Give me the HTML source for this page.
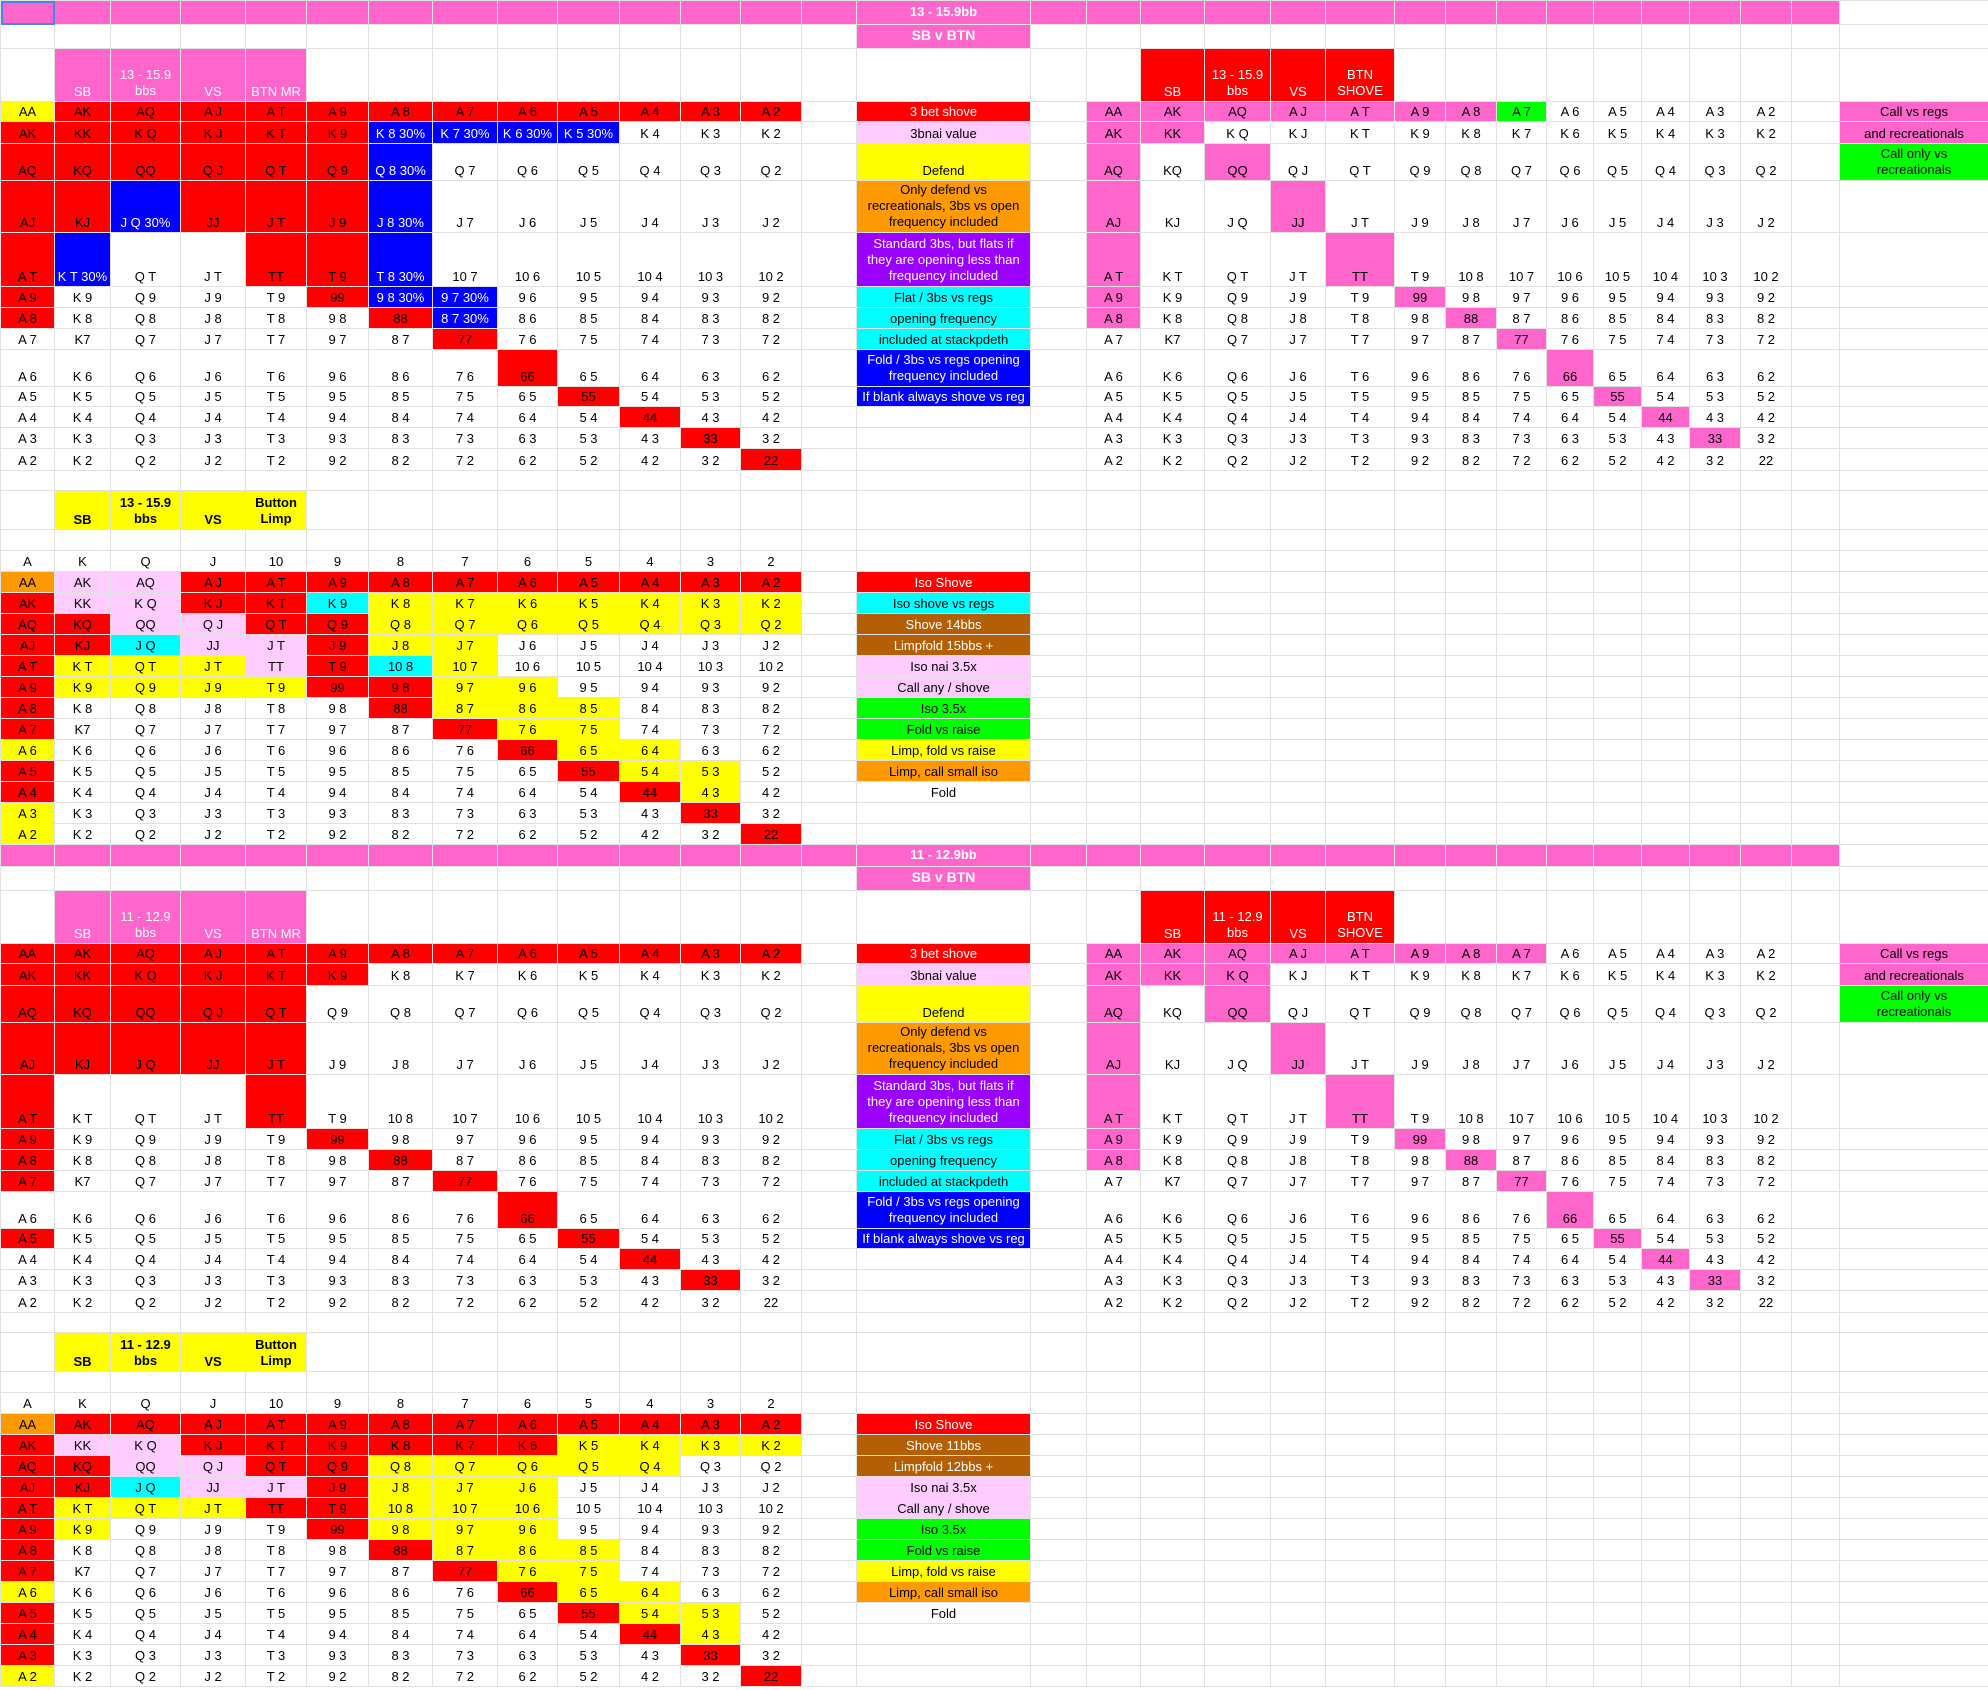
<!DOCTYPE html>
<html><head><meta charset="utf-8"><style>
html,body{margin:0;padding:0;background:#fff;width:1988px;height:1690px;overflow:hidden}
table{border-collapse:collapse;table-layout:fixed;width:1988px;position:absolute;left:0;top:0}
td{border:1px solid #e0e0e0;padding:0 1px 2px;text-align:center;vertical-align:bottom;font:13px/15px "Liberation Sans",Arial,sans-serif;overflow:hidden;white-space:nowrap;color:#000}
td.m{white-space:normal;line-height:16px}
.r{background:#ff0000}.b{background:#0000ff;color:#fff}.y{background:#ffff00}.p{background:#ff66cc}.l{background:#ffccff}.o{background:#ff9900}.u{background:#9900ff;color:#fff}.c{background:#00ffff}.g{background:#00ff00}.n{background:#b45f06;color:#fff}
.w{color:#fff}.t{color:#fff;font-weight:bold;vertical-align:middle}.k{font-weight:bold}
.sel{outline:2px solid #4a86e8;outline-offset:-2px}
</style></head><body>
<table>
<colgroup><col style="width:54px"><col style="width:56px"><col style="width:70px"><col style="width:65px"><col style="width:61px"><col style="width:62px"><col style="width:64px"><col style="width:65px"><col style="width:60px"><col style="width:62px"><col style="width:61px"><col style="width:60px"><col style="width:61px"><col style="width:55px"><col style="width:174px"><col style="width:56px"><col style="width:54px"><col style="width:64px"><col style="width:66px"><col style="width:55px"><col style="width:69px"><col style="width:51px"><col style="width:51px"><col style="width:50px"><col style="width:47px"><col style="width:48px"><col style="width:48px"><col style="width:51px"><col style="width:51px"><col style="width:48px"><col style="width:149px"></colgroup>

<tr style="height:24px"><td class="p sel"></td><td class="p"></td><td class="p"></td><td class="p"></td><td class="p"></td><td class="p"></td><td class="p"></td><td class="p"></td><td class="p"></td><td class="p"></td><td class="p"></td><td class="p"></td><td class="p"></td><td class="p"></td><td class="p t">13 - 15.9bb</td><td class="p"></td><td class="p"></td><td class="p"></td><td class="p"></td><td class="p"></td><td class="p"></td><td class="p"></td><td class="p"></td><td class="p"></td><td class="p"></td><td class="p"></td><td class="p"></td><td class="p"></td><td class="p"></td><td class="p"></td><td></td></tr>
<tr style="height:24px"><td></td><td></td><td></td><td></td><td></td><td></td><td></td><td></td><td></td><td></td><td></td><td></td><td></td><td></td><td class="p t" style="font-size:14px">SB v BTN</td><td></td><td></td><td></td><td></td><td></td><td></td><td></td><td></td><td></td><td></td><td></td><td></td><td></td><td></td><td></td><td></td></tr>
<tr style="height:53px"><td></td><td class="p w">SB</td><td class="p w m">13 - 15.9<br>bbs</td><td class="p w">VS</td><td class="p w">BTN MR</td><td></td><td></td><td></td><td></td><td></td><td></td><td></td><td></td><td></td><td></td><td></td><td></td><td class="r w">SB</td><td class="r w m">13 - 15.9<br>bbs</td><td class="r w">VS</td><td class="r w m">BTN<br>SHOVE</td><td></td><td></td><td></td><td></td><td></td><td></td><td></td><td></td><td></td><td></td></tr>

<tr style="height:20px"><td class="y">AA</td><td class="r">AK</td><td class="r">AQ</td><td class="r">A J</td><td class="r">A T</td><td class="r">A 9</td><td class="r">A 8</td><td class="r">A 7</td><td class="r">A 6</td><td class="r">A 5</td><td class="r">A 4</td><td class="r">A 3</td><td class="r">A 2</td><td></td><td class="r w">3 bet shove</td><td></td><td class="p">AA</td><td class="p">AK</td><td class="p">AQ</td><td class="p">A J</td><td class="p">A T</td><td class="p">A 9</td><td class="p">A 8</td><td class="g">A 7</td><td>A 6</td><td>A 5</td><td>A 4</td><td>A 3</td><td>A 2</td><td></td><td class="p">Call vs regs</td></tr>
<tr style="height:22px"><td class="r">AK</td><td class="r">KK</td><td class="r">K Q</td><td class="r">K J</td><td class="r">K T</td><td class="r">K 9</td><td class="b">K 8 30%</td><td class="b">K 7 30%</td><td class="b">K 6 30%</td><td class="b">K 5 30%</td><td>K 4</td><td>K 3</td><td>K 2</td><td></td><td class="l">3bnai value</td><td></td><td class="p">AK</td><td class="p">KK</td><td>K Q</td><td>K J</td><td>K T</td><td>K 9</td><td>K 8</td><td>K 7</td><td>K 6</td><td>K 5</td><td>K 4</td><td>K 3</td><td>K 2</td><td></td><td class="p">and recreationals</td></tr>
<tr style="height:37px"><td class="r">AQ</td><td class="r">KQ</td><td class="r">QQ</td><td class="r">Q J</td><td class="r">Q T</td><td class="r">Q 9</td><td class="b">Q 8 30%</td><td>Q 7</td><td>Q 6</td><td>Q 5</td><td>Q 4</td><td>Q 3</td><td>Q 2</td><td></td><td class="y">Defend</td><td></td><td class="p">AQ</td><td>KQ</td><td class="p">QQ</td><td>Q J</td><td>Q T</td><td>Q 9</td><td>Q 8</td><td>Q 7</td><td>Q 6</td><td>Q 5</td><td>Q 4</td><td>Q 3</td><td>Q 2</td><td></td><td class="g m">Call only vs<br>recreationals</td></tr>
<tr style="height:52px"><td class="r">AJ</td><td class="r">KJ</td><td class="b">J Q 30%</td><td class="r">JJ</td><td class="r">J T</td><td class="r">J 9</td><td class="b">J 8 30%</td><td>J 7</td><td>J 6</td><td>J 5</td><td>J 4</td><td>J 3</td><td>J 2</td><td></td><td class="o m">Only defend vs<br>recreationals, 3bs vs open<br>frequency included</td><td></td><td class="p">AJ</td><td>KJ</td><td>J Q</td><td class="p">JJ</td><td>J T</td><td>J 9</td><td>J 8</td><td>J 7</td><td>J 6</td><td>J 5</td><td>J 4</td><td>J 3</td><td>J 2</td><td></td><td></td></tr>
<tr style="height:54px"><td class="r">A T</td><td class="b">K T 30%</td><td>Q T</td><td>J T</td><td class="r">TT</td><td class="r">T 9</td><td class="b">T 8 30%</td><td>10 7</td><td>10 6</td><td>10 5</td><td>10 4</td><td>10 3</td><td>10 2</td><td></td><td class="u m">Standard 3bs, but flats if<br>they are opening less than<br>frequency included</td><td></td><td class="p">A T</td><td>K T</td><td>Q T</td><td>J T</td><td class="p">TT</td><td>T 9</td><td>10 8</td><td>10 7</td><td>10 6</td><td>10 5</td><td>10 4</td><td>10 3</td><td>10 2</td><td></td><td></td></tr>
<tr style="height:21px"><td class="r">A 9</td><td>K 9</td><td>Q 9</td><td>J 9</td><td>T 9</td><td class="r">99</td><td class="b">9 8 30%</td><td class="b">9 7 30%</td><td>9 6</td><td>9 5</td><td>9 4</td><td>9 3</td><td>9 2</td><td></td><td class="c">Flat / 3bs vs regs</td><td></td><td class="p">A 9</td><td>K 9</td><td>Q 9</td><td>J 9</td><td>T 9</td><td class="p">99</td><td>9 8</td><td>9 7</td><td>9 6</td><td>9 5</td><td>9 4</td><td>9 3</td><td>9 2</td><td></td><td></td></tr>
<tr style="height:21px"><td class="r">A 8</td><td>K 8</td><td>Q 8</td><td>J 8</td><td>T 8</td><td>9 8</td><td class="r">88</td><td class="b">8 7 30%</td><td>8 6</td><td>8 5</td><td>8 4</td><td>8 3</td><td>8 2</td><td></td><td class="c">opening frequency</td><td></td><td class="p">A 8</td><td>K 8</td><td>Q 8</td><td>J 8</td><td>T 8</td><td>9 8</td><td class="p">88</td><td>8 7</td><td>8 6</td><td>8 5</td><td>8 4</td><td>8 3</td><td>8 2</td><td></td><td></td></tr>
<tr style="height:21px"><td>A 7</td><td>K7</td><td>Q 7</td><td>J 7</td><td>T 7</td><td>9 7</td><td>8 7</td><td class="r">77</td><td>7 6</td><td>7 5</td><td>7 4</td><td>7 3</td><td>7 2</td><td></td><td class="c">included at stackpdeth</td><td></td><td>A 7</td><td>K7</td><td>Q 7</td><td>J 7</td><td>T 7</td><td>9 7</td><td>8 7</td><td class="p">77</td><td>7 6</td><td>7 5</td><td>7 4</td><td>7 3</td><td>7 2</td><td></td><td></td></tr>
<tr style="height:37px"><td>A 6</td><td>K 6</td><td>Q 6</td><td>J 6</td><td>T 6</td><td>9 6</td><td>8 6</td><td>7 6</td><td class="r">66</td><td>6 5</td><td>6 4</td><td>6 3</td><td>6 2</td><td></td><td class="b m">Fold / 3bs vs regs opening<br>frequency included</td><td></td><td>A 6</td><td>K 6</td><td>Q 6</td><td>J 6</td><td>T 6</td><td>9 6</td><td>8 6</td><td>7 6</td><td class="p">66</td><td>6 5</td><td>6 4</td><td>6 3</td><td>6 2</td><td></td><td></td></tr>
<tr style="height:20px"><td>A 5</td><td>K 5</td><td>Q 5</td><td>J 5</td><td>T 5</td><td>9 5</td><td>8 5</td><td>7 5</td><td>6 5</td><td class="r">55</td><td>5 4</td><td>5 3</td><td>5 2</td><td></td><td class="b">If blank always shove vs reg</td><td></td><td>A 5</td><td>K 5</td><td>Q 5</td><td>J 5</td><td>T 5</td><td>9 5</td><td>8 5</td><td>7 5</td><td>6 5</td><td class="p">55</td><td>5 4</td><td>5 3</td><td>5 2</td><td></td><td></td></tr>
<tr style="height:21px"><td>A 4</td><td>K 4</td><td>Q 4</td><td>J 4</td><td>T 4</td><td>9 4</td><td>8 4</td><td>7 4</td><td>6 4</td><td>5 4</td><td class="r">44</td><td>4 3</td><td>4 2</td><td></td><td></td><td></td><td>A 4</td><td>K 4</td><td>Q 4</td><td>J 4</td><td>T 4</td><td>9 4</td><td>8 4</td><td>7 4</td><td>6 4</td><td>5 4</td><td class="p">44</td><td>4 3</td><td>4 2</td><td></td><td></td></tr>
<tr style="height:21px"><td>A 3</td><td>K 3</td><td>Q 3</td><td>J 3</td><td>T 3</td><td>9 3</td><td>8 3</td><td>7 3</td><td>6 3</td><td>5 3</td><td>4 3</td><td class="r">33</td><td>3 2</td><td></td><td></td><td></td><td>A 3</td><td>K 3</td><td>Q 3</td><td>J 3</td><td>T 3</td><td>9 3</td><td>8 3</td><td>7 3</td><td>6 3</td><td>5 3</td><td>4 3</td><td class="p">33</td><td>3 2</td><td></td><td></td></tr>
<tr style="height:22px"><td>A 2</td><td>K 2</td><td>Q 2</td><td>J 2</td><td>T 2</td><td>9 2</td><td>8 2</td><td>7 2</td><td>6 2</td><td>5 2</td><td>4 2</td><td>3 2</td><td class="r">22</td><td></td><td></td><td></td><td>A 2</td><td>K 2</td><td>Q 2</td><td>J 2</td><td>T 2</td><td>9 2</td><td>8 2</td><td>7 2</td><td>6 2</td><td>5 2</td><td>4 2</td><td>3 2</td><td>22</td><td></td><td></td></tr>

<tr style="height:20px"><td></td><td></td><td></td><td></td><td></td><td></td><td></td><td></td><td></td><td></td><td></td><td></td><td></td><td></td><td></td><td></td><td></td><td></td><td></td><td></td><td></td><td></td><td></td><td></td><td></td><td></td><td></td><td></td><td></td><td></td><td></td></tr>
<tr style="height:39px"><td></td><td class="y k">SB</td><td class="y k m">13 - 15.9<br>bbs</td><td class="y k">VS</td><td class="y k m">Button<br>Limp</td><td></td><td></td><td></td><td></td><td></td><td></td><td></td><td></td><td></td><td></td><td></td><td></td><td></td><td></td><td></td><td></td><td></td><td></td><td></td><td></td><td></td><td></td><td></td><td></td><td></td><td></td></tr>
<tr style="height:21px"><td></td><td></td><td></td><td></td><td></td><td></td><td></td><td></td><td></td><td></td><td></td><td></td><td></td><td></td><td></td><td></td><td></td><td></td><td></td><td></td><td></td><td></td><td></td><td></td><td></td><td></td><td></td><td></td><td></td><td></td><td></td></tr>
<tr style="height:21px"><td>A</td><td>K</td><td>Q</td><td>J</td><td>10</td><td>9</td><td>8</td><td>7</td><td>6</td><td>5</td><td>4</td><td>3</td><td>2</td><td></td><td></td><td></td><td></td><td></td><td></td><td></td><td></td><td></td><td></td><td></td><td></td><td></td><td></td><td></td><td></td><td></td><td></td></tr>
<tr style="height:21px"><td class="o">AA</td><td class="l">AK</td><td class="l">AQ</td><td class="r">A J</td><td class="r">A T</td><td class="r">A 9</td><td class="r">A 8</td><td class="r">A 7</td><td class="r">A 6</td><td class="r">A 5</td><td class="r">A 4</td><td class="r">A 3</td><td class="r">A 2</td><td></td><td class="r w">Iso Shove</td><td></td><td></td><td></td><td></td><td></td><td></td><td></td><td></td><td></td><td></td><td></td><td></td><td></td><td></td><td></td><td></td></tr>
<tr style="height:21px"><td class="r">AK</td><td class="l">KK</td><td class="l">K Q</td><td class="r">K J</td><td class="r">K T</td><td class="c">K 9</td><td class="y">K 8</td><td class="y">K 7</td><td class="y">K 6</td><td class="y">K 5</td><td class="y">K 4</td><td class="y">K 3</td><td class="y">K 2</td><td></td><td class="c">Iso shove vs regs</td><td></td><td></td><td></td><td></td><td></td><td></td><td></td><td></td><td></td><td></td><td></td><td></td><td></td><td></td><td></td><td></td></tr>
<tr style="height:21px"><td class="r">AQ</td><td class="r">KQ</td><td class="l">QQ</td><td class="l">Q J</td><td class="r">Q T</td><td class="r">Q 9</td><td class="y">Q 8</td><td class="y">Q 7</td><td class="y">Q 6</td><td class="y">Q 5</td><td class="y">Q 4</td><td class="y">Q 3</td><td class="y">Q 2</td><td></td><td class="n">Shove 14bbs</td><td></td><td></td><td></td><td></td><td></td><td></td><td></td><td></td><td></td><td></td><td></td><td></td><td></td><td></td><td></td><td></td></tr>
<tr style="height:21px"><td class="r">AJ</td><td class="r">KJ</td><td class="c">J Q</td><td class="l">JJ</td><td class="l">J T</td><td class="r">J 9</td><td class="y">J 8</td><td class="y">J 7</td><td>J 6</td><td>J 5</td><td>J 4</td><td>J 3</td><td>J 2</td><td></td><td class="n">Limpfold 15bbs +</td><td></td><td></td><td></td><td></td><td></td><td></td><td></td><td></td><td></td><td></td><td></td><td></td><td></td><td></td><td></td><td></td></tr>
<tr style="height:21px"><td class="r">A T</td><td class="y">K T</td><td class="y">Q T</td><td class="y">J T</td><td class="l">TT</td><td class="r">T 9</td><td class="c">10 8</td><td class="y">10 7</td><td>10 6</td><td>10 5</td><td>10 4</td><td>10 3</td><td>10 2</td><td></td><td class="l">Iso nai 3.5x</td><td></td><td></td><td></td><td></td><td></td><td></td><td></td><td></td><td></td><td></td><td></td><td></td><td></td><td></td><td></td><td></td></tr>
<tr style="height:21px"><td class="r">A 9</td><td class="y">K 9</td><td class="y">Q 9</td><td class="y">J 9</td><td class="y">T 9</td><td class="r">99</td><td class="r">9 8</td><td class="y">9 7</td><td class="y">9 6</td><td>9 5</td><td>9 4</td><td>9 3</td><td>9 2</td><td></td><td class="l">Call any / shove</td><td></td><td></td><td></td><td></td><td></td><td></td><td></td><td></td><td></td><td></td><td></td><td></td><td></td><td></td><td></td><td></td></tr>
<tr style="height:21px"><td class="r">A 8</td><td>K 8</td><td>Q 8</td><td>J 8</td><td>T 8</td><td>9 8</td><td class="r">88</td><td class="y">8 7</td><td class="y">8 6</td><td class="y">8 5</td><td>8 4</td><td>8 3</td><td>8 2</td><td></td><td class="g">Iso 3.5x</td><td></td><td></td><td></td><td></td><td></td><td></td><td></td><td></td><td></td><td></td><td></td><td></td><td></td><td></td><td></td><td></td></tr>
<tr style="height:21px"><td class="r">A 7</td><td>K7</td><td>Q 7</td><td>J 7</td><td>T 7</td><td>9 7</td><td>8 7</td><td class="r">77</td><td class="y">7 6</td><td class="y">7 5</td><td>7 4</td><td>7 3</td><td>7 2</td><td></td><td class="g">Fold vs raise</td><td></td><td></td><td></td><td></td><td></td><td></td><td></td><td></td><td></td><td></td><td></td><td></td><td></td><td></td><td></td><td></td></tr>
<tr style="height:21px"><td class="y">A 6</td><td>K 6</td><td>Q 6</td><td>J 6</td><td>T 6</td><td>9 6</td><td>8 6</td><td>7 6</td><td class="r">66</td><td class="y">6 5</td><td class="y">6 4</td><td>6 3</td><td>6 2</td><td></td><td class="y">Limp, fold vs raise</td><td></td><td></td><td></td><td></td><td></td><td></td><td></td><td></td><td></td><td></td><td></td><td></td><td></td><td></td><td></td><td></td></tr>
<tr style="height:21px"><td class="r">A 5</td><td>K 5</td><td>Q 5</td><td>J 5</td><td>T 5</td><td>9 5</td><td>8 5</td><td>7 5</td><td>6 5</td><td class="r">55</td><td class="y">5 4</td><td class="y">5 3</td><td>5 2</td><td></td><td class="o">Limp, call small iso</td><td></td><td></td><td></td><td></td><td></td><td></td><td></td><td></td><td></td><td></td><td></td><td></td><td></td><td></td><td></td><td></td></tr>
<tr style="height:21px"><td class="r">A 4</td><td>K 4</td><td>Q 4</td><td>J 4</td><td>T 4</td><td>9 4</td><td>8 4</td><td>7 4</td><td>6 4</td><td>5 4</td><td class="r">44</td><td class="y">4 3</td><td>4 2</td><td></td><td>Fold</td><td></td><td></td><td></td><td></td><td></td><td></td><td></td><td></td><td></td><td></td><td></td><td></td><td></td><td></td><td></td><td></td></tr>
<tr style="height:21px"><td class="y">A 3</td><td>K 3</td><td>Q 3</td><td>J 3</td><td>T 3</td><td>9 3</td><td>8 3</td><td>7 3</td><td>6 3</td><td>5 3</td><td>4 3</td><td class="r">33</td><td>3 2</td><td></td><td></td><td></td><td></td><td></td><td></td><td></td><td></td><td></td><td></td><td></td><td></td><td></td><td></td><td></td><td></td><td></td><td></td></tr>
<tr style="height:21px"><td class="y">A 2</td><td>K 2</td><td>Q 2</td><td>J 2</td><td>T 2</td><td>9 2</td><td>8 2</td><td>7 2</td><td>6 2</td><td>5 2</td><td>4 2</td><td>3 2</td><td class="r">22</td><td></td><td></td><td></td><td></td><td></td><td></td><td></td><td></td><td></td><td></td><td></td><td></td><td></td><td></td><td></td><td></td><td></td><td></td></tr>

<tr style="height:22px"><td class="p"></td><td class="p"></td><td class="p"></td><td class="p"></td><td class="p"></td><td class="p"></td><td class="p"></td><td class="p"></td><td class="p"></td><td class="p"></td><td class="p"></td><td class="p"></td><td class="p"></td><td class="p"></td><td class="p t">11 - 12.9bb</td><td class="p"></td><td class="p"></td><td class="p"></td><td class="p"></td><td class="p"></td><td class="p"></td><td class="p"></td><td class="p"></td><td class="p"></td><td class="p"></td><td class="p"></td><td class="p"></td><td class="p"></td><td class="p"></td><td class="p"></td><td></td></tr>
<tr style="height:24px"><td></td><td></td><td></td><td></td><td></td><td></td><td></td><td></td><td></td><td></td><td></td><td></td><td></td><td></td><td class="p t" style="font-size:14px">SB v BTN</td><td></td><td></td><td></td><td></td><td></td><td></td><td></td><td></td><td></td><td></td><td></td><td></td><td></td><td></td><td></td><td></td></tr>
<tr style="height:53px"><td></td><td class="p w">SB</td><td class="p w m">11 - 12.9<br>bbs</td><td class="p w">VS</td><td class="p w">BTN MR</td><td></td><td></td><td></td><td></td><td></td><td></td><td></td><td></td><td></td><td></td><td></td><td></td><td class="r w">SB</td><td class="r w m">11 - 12.9<br>bbs</td><td class="r w">VS</td><td class="r w m">BTN<br>SHOVE</td><td></td><td></td><td></td><td></td><td></td><td></td><td></td><td></td><td></td><td></td></tr>

<tr style="height:20px"><td class="r">AA</td><td class="r">AK</td><td class="r">AQ</td><td class="r">A J</td><td class="r">A T</td><td class="r">A 9</td><td class="r">A 8</td><td class="r">A 7</td><td class="r">A 6</td><td class="r">A 5</td><td class="r">A 4</td><td class="r">A 3</td><td class="r">A 2</td><td></td><td class="r w">3 bet shove</td><td></td><td class="p">AA</td><td class="p">AK</td><td class="p">AQ</td><td class="p">A J</td><td class="p">A T</td><td class="p">A 9</td><td class="p">A 8</td><td class="p">A 7</td><td>A 6</td><td>A 5</td><td>A 4</td><td>A 3</td><td>A 2</td><td></td><td class="p">Call vs regs</td></tr>
<tr style="height:22px"><td class="r">AK</td><td class="r">KK</td><td class="r">K Q</td><td class="r">K J</td><td class="r">K T</td><td class="r">K 9</td><td>K 8</td><td>K 7</td><td>K 6</td><td>K 5</td><td>K 4</td><td>K 3</td><td>K 2</td><td></td><td class="l">3bnai value</td><td></td><td class="p">AK</td><td class="p">KK</td><td class="p">K Q</td><td>K J</td><td>K T</td><td>K 9</td><td>K 8</td><td>K 7</td><td>K 6</td><td>K 5</td><td>K 4</td><td>K 3</td><td>K 2</td><td></td><td class="p">and recreationals</td></tr>
<tr style="height:37px"><td class="r">AQ</td><td class="r">KQ</td><td class="r">QQ</td><td class="r">Q J</td><td class="r">Q T</td><td>Q 9</td><td>Q 8</td><td>Q 7</td><td>Q 6</td><td>Q 5</td><td>Q 4</td><td>Q 3</td><td>Q 2</td><td></td><td class="y">Defend</td><td></td><td class="p">AQ</td><td>KQ</td><td class="p">QQ</td><td>Q J</td><td>Q T</td><td>Q 9</td><td>Q 8</td><td>Q 7</td><td>Q 6</td><td>Q 5</td><td>Q 4</td><td>Q 3</td><td>Q 2</td><td></td><td class="g m">Call only vs<br>recreationals</td></tr>
<tr style="height:52px"><td class="r">AJ</td><td class="r">KJ</td><td class="r">J Q</td><td class="r">JJ</td><td class="r">J T</td><td>J 9</td><td>J 8</td><td>J 7</td><td>J 6</td><td>J 5</td><td>J 4</td><td>J 3</td><td>J 2</td><td></td><td class="o m">Only defend vs<br>recreationals, 3bs vs open<br>frequency included</td><td></td><td class="p">AJ</td><td>KJ</td><td>J Q</td><td class="p">JJ</td><td>J T</td><td>J 9</td><td>J 8</td><td>J 7</td><td>J 6</td><td>J 5</td><td>J 4</td><td>J 3</td><td>J 2</td><td></td><td></td></tr>
<tr style="height:54px"><td class="r">A T</td><td>K T</td><td>Q T</td><td>J T</td><td class="r">TT</td><td>T 9</td><td>10 8</td><td>10 7</td><td>10 6</td><td>10 5</td><td>10 4</td><td>10 3</td><td>10 2</td><td></td><td class="u m">Standard 3bs, but flats if<br>they are opening less than<br>frequency included</td><td></td><td class="p">A T</td><td>K T</td><td>Q T</td><td>J T</td><td class="p">TT</td><td>T 9</td><td>10 8</td><td>10 7</td><td>10 6</td><td>10 5</td><td>10 4</td><td>10 3</td><td>10 2</td><td></td><td></td></tr>
<tr style="height:21px"><td class="r">A 9</td><td>K 9</td><td>Q 9</td><td>J 9</td><td>T 9</td><td class="r">99</td><td>9 8</td><td>9 7</td><td>9 6</td><td>9 5</td><td>9 4</td><td>9 3</td><td>9 2</td><td></td><td class="c">Flat / 3bs vs regs</td><td></td><td class="p">A 9</td><td>K 9</td><td>Q 9</td><td>J 9</td><td>T 9</td><td class="p">99</td><td>9 8</td><td>9 7</td><td>9 6</td><td>9 5</td><td>9 4</td><td>9 3</td><td>9 2</td><td></td><td></td></tr>
<tr style="height:21px"><td class="r">A 8</td><td>K 8</td><td>Q 8</td><td>J 8</td><td>T 8</td><td>9 8</td><td class="r">88</td><td>8 7</td><td>8 6</td><td>8 5</td><td>8 4</td><td>8 3</td><td>8 2</td><td></td><td class="c">opening frequency</td><td></td><td class="p">A 8</td><td>K 8</td><td>Q 8</td><td>J 8</td><td>T 8</td><td>9 8</td><td class="p">88</td><td>8 7</td><td>8 6</td><td>8 5</td><td>8 4</td><td>8 3</td><td>8 2</td><td></td><td></td></tr>
<tr style="height:21px"><td class="r">A 7</td><td>K7</td><td>Q 7</td><td>J 7</td><td>T 7</td><td>9 7</td><td>8 7</td><td class="r">77</td><td>7 6</td><td>7 5</td><td>7 4</td><td>7 3</td><td>7 2</td><td></td><td class="c">included at stackpdeth</td><td></td><td>A 7</td><td>K7</td><td>Q 7</td><td>J 7</td><td>T 7</td><td>9 7</td><td>8 7</td><td class="p">77</td><td>7 6</td><td>7 5</td><td>7 4</td><td>7 3</td><td>7 2</td><td></td><td></td></tr>
<tr style="height:37px"><td>A 6</td><td>K 6</td><td>Q 6</td><td>J 6</td><td>T 6</td><td>9 6</td><td>8 6</td><td>7 6</td><td class="r">66</td><td>6 5</td><td>6 4</td><td>6 3</td><td>6 2</td><td></td><td class="b m">Fold / 3bs vs regs opening<br>frequency included</td><td></td><td>A 6</td><td>K 6</td><td>Q 6</td><td>J 6</td><td>T 6</td><td>9 6</td><td>8 6</td><td>7 6</td><td class="p">66</td><td>6 5</td><td>6 4</td><td>6 3</td><td>6 2</td><td></td><td></td></tr>
<tr style="height:20px"><td class="r">A 5</td><td>K 5</td><td>Q 5</td><td>J 5</td><td>T 5</td><td>9 5</td><td>8 5</td><td>7 5</td><td>6 5</td><td class="r">55</td><td>5 4</td><td>5 3</td><td>5 2</td><td></td><td class="b">If blank always shove vs reg</td><td></td><td>A 5</td><td>K 5</td><td>Q 5</td><td>J 5</td><td>T 5</td><td>9 5</td><td>8 5</td><td>7 5</td><td>6 5</td><td class="p">55</td><td>5 4</td><td>5 3</td><td>5 2</td><td></td><td></td></tr>
<tr style="height:21px"><td>A 4</td><td>K 4</td><td>Q 4</td><td>J 4</td><td>T 4</td><td>9 4</td><td>8 4</td><td>7 4</td><td>6 4</td><td>5 4</td><td class="r">44</td><td>4 3</td><td>4 2</td><td></td><td></td><td></td><td>A 4</td><td>K 4</td><td>Q 4</td><td>J 4</td><td>T 4</td><td>9 4</td><td>8 4</td><td>7 4</td><td>6 4</td><td>5 4</td><td class="p">44</td><td>4 3</td><td>4 2</td><td></td><td></td></tr>
<tr style="height:21px"><td>A 3</td><td>K 3</td><td>Q 3</td><td>J 3</td><td>T 3</td><td>9 3</td><td>8 3</td><td>7 3</td><td>6 3</td><td>5 3</td><td>4 3</td><td class="r">33</td><td>3 2</td><td></td><td></td><td></td><td>A 3</td><td>K 3</td><td>Q 3</td><td>J 3</td><td>T 3</td><td>9 3</td><td>8 3</td><td>7 3</td><td>6 3</td><td>5 3</td><td>4 3</td><td class="p">33</td><td>3 2</td><td></td><td></td></tr>
<tr style="height:22px"><td>A 2</td><td>K 2</td><td>Q 2</td><td>J 2</td><td>T 2</td><td>9 2</td><td>8 2</td><td>7 2</td><td>6 2</td><td>5 2</td><td>4 2</td><td>3 2</td><td>22</td><td></td><td></td><td></td><td>A 2</td><td>K 2</td><td>Q 2</td><td>J 2</td><td>T 2</td><td>9 2</td><td>8 2</td><td>7 2</td><td>6 2</td><td>5 2</td><td>4 2</td><td>3 2</td><td>22</td><td></td><td></td></tr>

<tr style="height:20px"><td></td><td></td><td></td><td></td><td></td><td></td><td></td><td></td><td></td><td></td><td></td><td></td><td></td><td></td><td></td><td></td><td></td><td></td><td></td><td></td><td></td><td></td><td></td><td></td><td></td><td></td><td></td><td></td><td></td><td></td><td></td></tr>
<tr style="height:39px"><td></td><td class="y k">SB</td><td class="y k m">11 - 12.9<br>bbs</td><td class="y k">VS</td><td class="y k m">Button<br>Limp</td><td></td><td></td><td></td><td></td><td></td><td></td><td></td><td></td><td></td><td></td><td></td><td></td><td></td><td></td><td></td><td></td><td></td><td></td><td></td><td></td><td></td><td></td><td></td><td></td><td></td><td></td></tr>
<tr style="height:21px"><td></td><td></td><td></td><td></td><td></td><td></td><td></td><td></td><td></td><td></td><td></td><td></td><td></td><td></td><td></td><td></td><td></td><td></td><td></td><td></td><td></td><td></td><td></td><td></td><td></td><td></td><td></td><td></td><td></td><td></td><td></td></tr>
<tr style="height:21px"><td>A</td><td>K</td><td>Q</td><td>J</td><td>10</td><td>9</td><td>8</td><td>7</td><td>6</td><td>5</td><td>4</td><td>3</td><td>2</td><td></td><td></td><td></td><td></td><td></td><td></td><td></td><td></td><td></td><td></td><td></td><td></td><td></td><td></td><td></td><td></td><td></td><td></td></tr>
<tr style="height:21px"><td class="o">AA</td><td class="r">AK</td><td class="r">AQ</td><td class="r">A J</td><td class="r">A T</td><td class="r">A 9</td><td class="r">A 8</td><td class="r">A 7</td><td class="r">A 6</td><td class="r">A 5</td><td class="r">A 4</td><td class="r">A 3</td><td class="r">A 2</td><td></td><td class="r w">Iso Shove</td><td></td><td></td><td></td><td></td><td></td><td></td><td></td><td></td><td></td><td></td><td></td><td></td><td></td><td></td><td></td><td></td></tr>
<tr style="height:21px"><td class="r">AK</td><td class="l">KK</td><td class="l">K Q</td><td class="r">K J</td><td class="r">K T</td><td class="r">K 9</td><td class="r">K 8</td><td class="r">K 7</td><td class="r">K 6</td><td class="y">K 5</td><td class="y">K 4</td><td class="y">K 3</td><td class="y">K 2</td><td></td><td class="n">Shove 11bbs</td><td></td><td></td><td></td><td></td><td></td><td></td><td></td><td></td><td></td><td></td><td></td><td></td><td></td><td></td><td></td><td></td></tr>
<tr style="height:21px"><td class="r">AQ</td><td class="r">KQ</td><td class="l">QQ</td><td class="l">Q J</td><td class="r">Q T</td><td class="r">Q 9</td><td class="y">Q 8</td><td class="y">Q 7</td><td class="y">Q 6</td><td class="y">Q 5</td><td class="y">Q 4</td><td>Q 3</td><td>Q 2</td><td></td><td class="n">Limpfold 12bbs +</td><td></td><td></td><td></td><td></td><td></td><td></td><td></td><td></td><td></td><td></td><td></td><td></td><td></td><td></td><td></td><td></td></tr>
<tr style="height:21px"><td class="r">AJ</td><td class="r">KJ</td><td class="c">J Q</td><td class="l">JJ</td><td class="l">J T</td><td class="r">J 9</td><td class="y">J 8</td><td class="y">J 7</td><td class="y">J 6</td><td>J 5</td><td>J 4</td><td>J 3</td><td>J 2</td><td></td><td class="l">Iso nai 3.5x</td><td></td><td></td><td></td><td></td><td></td><td></td><td></td><td></td><td></td><td></td><td></td><td></td><td></td><td></td><td></td><td></td></tr>
<tr style="height:21px"><td class="r">A T</td><td class="y">K T</td><td class="y">Q T</td><td class="y">J T</td><td class="r">TT</td><td class="r">T 9</td><td class="y">10 8</td><td class="y">10 7</td><td class="y">10 6</td><td>10 5</td><td>10 4</td><td>10 3</td><td>10 2</td><td></td><td class="l">Call any / shove</td><td></td><td></td><td></td><td></td><td></td><td></td><td></td><td></td><td></td><td></td><td></td><td></td><td></td><td></td><td></td><td></td></tr>
<tr style="height:21px"><td class="r">A 9</td><td class="y">K 9</td><td>Q 9</td><td>J 9</td><td>T 9</td><td class="r">99</td><td class="y">9 8</td><td class="y">9 7</td><td class="y">9 6</td><td>9 5</td><td>9 4</td><td>9 3</td><td>9 2</td><td></td><td class="g">Iso 3.5x</td><td></td><td></td><td></td><td></td><td></td><td></td><td></td><td></td><td></td><td></td><td></td><td></td><td></td><td></td><td></td><td></td></tr>
<tr style="height:21px"><td class="r">A 8</td><td>K 8</td><td>Q 8</td><td>J 8</td><td>T 8</td><td>9 8</td><td class="r">88</td><td class="y">8 7</td><td class="y">8 6</td><td class="y">8 5</td><td>8 4</td><td>8 3</td><td>8 2</td><td></td><td class="g">Fold vs raise</td><td></td><td></td><td></td><td></td><td></td><td></td><td></td><td></td><td></td><td></td><td></td><td></td><td></td><td></td><td></td><td></td></tr>
<tr style="height:21px"><td class="r">A 7</td><td>K7</td><td>Q 7</td><td>J 7</td><td>T 7</td><td>9 7</td><td>8 7</td><td class="r">77</td><td class="y">7 6</td><td class="y">7 5</td><td>7 4</td><td>7 3</td><td>7 2</td><td></td><td class="y">Limp, fold vs raise</td><td></td><td></td><td></td><td></td><td></td><td></td><td></td><td></td><td></td><td></td><td></td><td></td><td></td><td></td><td></td><td></td></tr>
<tr style="height:21px"><td class="y">A 6</td><td>K 6</td><td>Q 6</td><td>J 6</td><td>T 6</td><td>9 6</td><td>8 6</td><td>7 6</td><td class="r">66</td><td class="y">6 5</td><td class="y">6 4</td><td>6 3</td><td>6 2</td><td></td><td class="o">Limp, call small iso</td><td></td><td></td><td></td><td></td><td></td><td></td><td></td><td></td><td></td><td></td><td></td><td></td><td></td><td></td><td></td><td></td></tr>
<tr style="height:21px"><td class="r">A 5</td><td>K 5</td><td>Q 5</td><td>J 5</td><td>T 5</td><td>9 5</td><td>8 5</td><td>7 5</td><td>6 5</td><td class="r">55</td><td class="y">5 4</td><td class="y">5 3</td><td>5 2</td><td></td><td>Fold</td><td></td><td></td><td></td><td></td><td></td><td></td><td></td><td></td><td></td><td></td><td></td><td></td><td></td><td></td><td></td><td></td></tr>
<tr style="height:21px"><td class="r">A 4</td><td>K 4</td><td>Q 4</td><td>J 4</td><td>T 4</td><td>9 4</td><td>8 4</td><td>7 4</td><td>6 4</td><td>5 4</td><td class="r">44</td><td class="y">4 3</td><td>4 2</td><td></td><td></td><td></td><td></td><td></td><td></td><td></td><td></td><td></td><td></td><td></td><td></td><td></td><td></td><td></td><td></td><td></td><td></td></tr>
<tr style="height:21px"><td class="r">A 3</td><td>K 3</td><td>Q 3</td><td>J 3</td><td>T 3</td><td>9 3</td><td>8 3</td><td>7 3</td><td>6 3</td><td>5 3</td><td>4 3</td><td class="r">33</td><td>3 2</td><td></td><td></td><td></td><td></td><td></td><td></td><td></td><td></td><td></td><td></td><td></td><td></td><td></td><td></td><td></td><td></td><td></td><td></td></tr>
<tr style="height:21px"><td class="y">A 2</td><td>K 2</td><td>Q 2</td><td>J 2</td><td>T 2</td><td>9 2</td><td>8 2</td><td>7 2</td><td>6 2</td><td>5 2</td><td>4 2</td><td>3 2</td><td class="r">22</td><td></td><td></td><td></td><td></td><td></td><td></td><td></td><td></td><td></td><td></td><td></td><td></td><td></td><td></td><td></td><td></td><td></td><td></td></tr>
</table>
</body></html>
